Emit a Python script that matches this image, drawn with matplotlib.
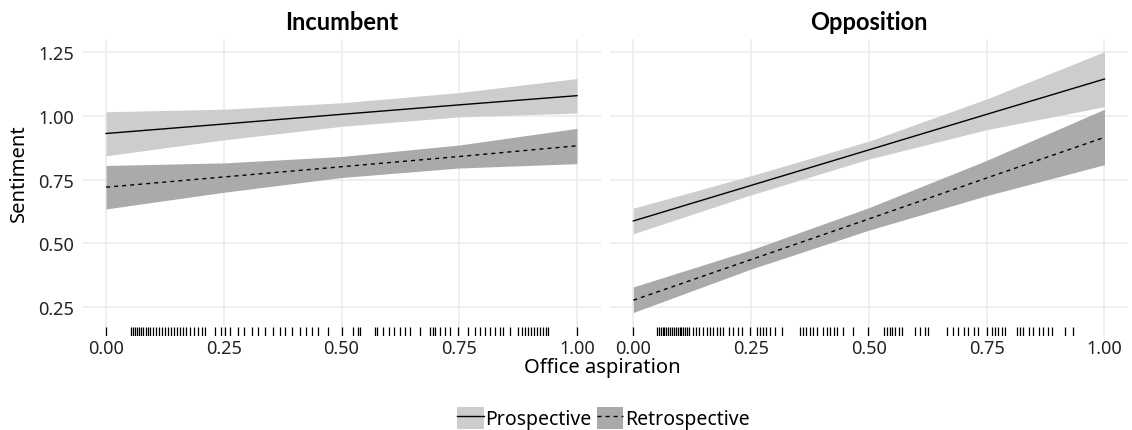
import matplotlib
matplotlib.use("Agg")
import matplotlib.pyplot as plt
from matplotlib.patches import Patch
from matplotlib.lines import Line2D

plt.rcParams['font.family'] = ['Noto Sans', 'DejaVu Sans']

# x positions where the fitted values / bands were read
x_points = [0.0, 0.25, 0.5, 0.75, 1.0]

# Incumbent panel
inc_pro_fit = [0.930, 0.967, 1.005, 1.042, 1.078]
inc_pro_hi = [1.015, 1.025, 1.050, 1.090, 1.145]
inc_pro_lo = [0.843, 0.905, 0.958, 0.995, 1.010]
inc_ret_fit = [0.720, 0.760, 0.800, 0.840, 0.882]
inc_ret_hi = [0.805, 0.815, 0.840, 0.885, 0.950]
inc_ret_lo = [0.635, 0.700, 0.758, 0.795, 0.812]

# Opposition panel
opp_pro_fit = [0.588, 0.727, 0.866, 1.005, 1.143]
opp_pro_hi = [0.638, 0.765, 0.900, 1.065, 1.250]
opp_pro_lo = [0.538, 0.690, 0.830, 0.945, 1.035]
opp_ret_fit = [0.278, 0.437, 0.596, 0.756, 0.915]
opp_ret_hi = [0.330, 0.475, 0.640, 0.825, 1.025]
opp_ret_lo = [0.230, 0.400, 0.552, 0.687, 0.808]

# observed office aspiration values (rug)
inc_rug = [0.000, 0.053, 0.057, 0.062, 0.066, 0.070, 0.074, 0.079, 0.085, 0.089,
           0.093, 0.100, 0.106, 0.113, 0.119, 0.125, 0.132, 0.138, 0.144, 0.151,
           0.157, 0.163, 0.170, 0.178, 0.187, 0.195, 0.204, 0.210, 0.231, 0.244,
           0.253, 0.263, 0.280, 0.293, 0.310, 0.323, 0.338, 0.355, 0.369, 0.380,
           0.395, 0.412, 0.425, 0.437, 0.450, 0.471, 0.501, 0.524, 0.535, 0.539,
           0.571, 0.575, 0.588, 0.601, 0.611, 0.624, 0.635, 0.645, 0.667, 0.688,
           0.694, 0.699, 0.709, 0.720, 0.730, 0.747, 0.769, 0.783, 0.794, 0.805,
           0.815, 0.826, 0.837, 0.843, 0.858, 0.875, 0.883, 0.890, 0.896, 0.902,
           0.909, 0.915, 0.921, 0.928, 0.934, 0.938, 1.000]
opp_rug = [0.000, 0.050, 0.054, 0.058, 0.062, 0.066, 0.070, 0.074, 0.078, 0.082,
           0.086, 0.090, 0.094, 0.098, 0.102, 0.106, 0.110, 0.114, 0.118, 0.126,
           0.133, 0.140, 0.147, 0.156, 0.163, 0.170, 0.177, 0.184, 0.191, 0.202,
           0.212, 0.223, 0.230, 0.248, 0.262, 0.269, 0.275, 0.282, 0.290, 0.301,
           0.315, 0.354, 0.360, 0.367, 0.375, 0.382, 0.389, 0.403, 0.411, 0.418,
           0.425, 0.432, 0.446, 0.467, 0.499, 0.531, 0.538, 0.544, 0.549, 0.556,
           0.563, 0.570, 0.598, 0.609, 0.619, 0.626, 0.665, 0.679, 0.690, 0.701,
           0.711, 0.722, 0.732, 0.750, 0.761, 0.768, 0.775, 0.782, 0.789, 0.814,
           0.821, 0.828, 0.839, 0.849, 0.860, 0.870, 0.881, 0.888, 0.917, 0.934]

panels = [
    ("Incumbent", inc_pro_fit, inc_pro_lo, inc_pro_hi,
     inc_ret_fit, inc_ret_lo, inc_ret_hi, inc_rug),
    ("Opposition", opp_pro_fit, opp_pro_lo, opp_pro_hi,
     opp_ret_fit, opp_ret_lo, opp_ret_hi, opp_rug),
]

light = '#cdcdcd'
dark = '#aaaaaa'
dash = (0, (2.9, 2.9))
tick_col = '#222222'

fig = plt.figure(figsize=(11.32, 4.31), dpi=100)
ax_l = fig.add_axes([0.0729, 0.2181, 0.4576, 0.6891])
ax_r = fig.add_axes([0.5387, 0.2181, 0.4578, 0.6891])

for ax, (title, pf, plo, phi, rf, rlo, rhi, rug) in zip([ax_l, ax_r], panels):
    ax.fill_between(x_points, plo, phi, color=light, lw=0, zorder=2)
    ax.fill_between(x_points, rlo, rhi, color=dark, lw=0, zorder=2)
    ax.plot(x_points, pf, color='black', lw=1.0, zorder=3)
    ax.plot(x_points, rf, color='black', lw=1.0, linestyle=dash, zorder=3)
    ax.vlines(rug, 0, 0.03, transform=ax.get_xaxis_transform(),
              color='black', lw=0.9, zorder=4)

    ax.set_xlim(-0.05, 1.05)
    ax.set_ylim(0.138, 1.2996)
    ax.set_xticks([0, 0.25, 0.5, 0.75, 1.0])
    ax.set_xticklabels(['0.00', '0.25', '0.50', '0.75', '1.00'])
    ax.set_yticks([0.25, 0.5, 0.75, 1.0, 1.25])
    ax.set_yticklabels(['0.25', '0.50', '0.75', '1.00', '1.25'])
    ax.grid(True, color='#ebebeb', lw=1.1, zorder=0)
    ax.set_axisbelow(True)
    for s in ax.spines.values():
        s.set_visible(False)
    ax.tick_params(length=0, labelsize=13, labelcolor=tick_col, pad=2)
    ax.tick_params(axis='y', pad=6)
    ax.set_title(title, fontsize=17, fontweight='bold', pad=7,
                 family=['Lato', 'DejaVu Sans'])

ax_r.tick_params(axis='y', labelleft=False)

fig.text(0.532, 0.146, 'Office aspiration', ha='center', va='center', fontsize=14.5)
fig.text(0.017, 0.599, 'Sentiment', ha='center', va='center', rotation=90, fontsize=14.5)

handles = [
    (Patch(facecolor=light, edgecolor='none'), Line2D([], [], color='black', lw=1.0)),
    (Patch(facecolor=dark, edgecolor='none'), Line2D([], [], color='black', lw=1.0, linestyle=dash)),
]
fig.legend(handles, ['Prospective', 'Retrospective'], loc='lower center',
           bbox_to_anchor=(0.533, -0.03), ncol=2, frameon=False, fontsize=14,
           handlelength=1.35, handleheight=1.35, handletextpad=0.1,
           columnspacing=0.25, borderpad=0.2)

fig.savefig('out.png', dpi=100)
